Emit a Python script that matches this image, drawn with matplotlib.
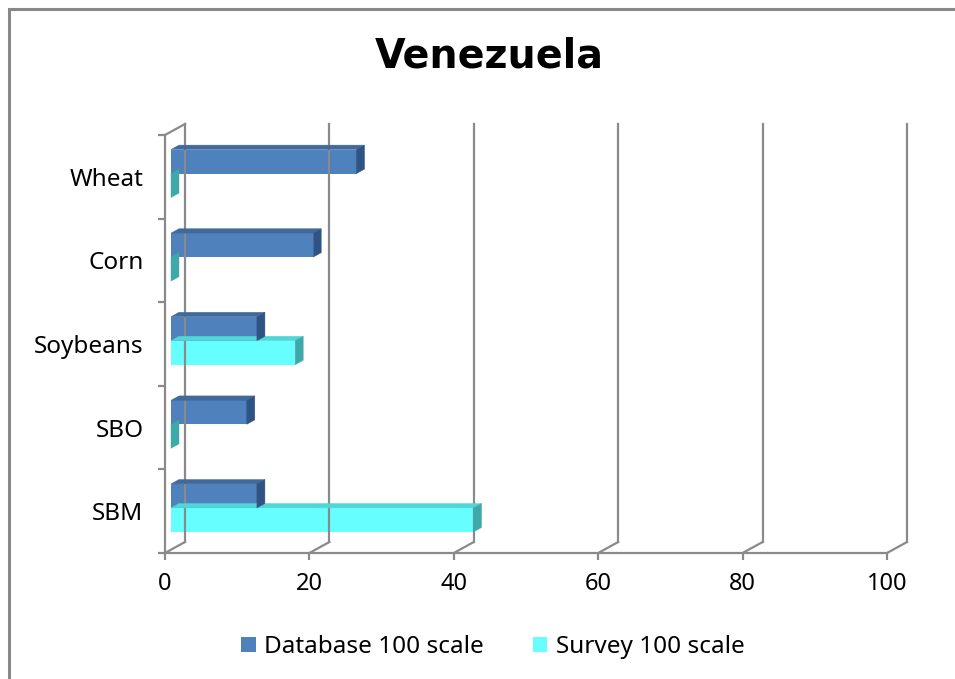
import matplotlib
matplotlib.use("Agg")
import matplotlib.pyplot as plt
from matplotlib.patches import Polygon, Patch, Rectangle
from matplotlib.lines import Line2D
from matplotlib.transforms import ScaledTranslation, IdentityTransform

categories = ["Wheat", "Corn", "Soybeans", "SBO", "SBM"]
database = [25.7, 19.7, 11.9, 10.5, 11.9]
survey = [0, 0, 17.2, 0, 41.9]
series_names = ["Database 100 scale", "Survey 100 scale"]
x_ticks = [0, 20, 40, 60, 80, 100]
title = "Venezuela"

plt.rcParams['font.family'] = ['Noto Sans', 'DejaVu Sans']

W, H = 955, 679
fig = plt.figure(figsize=(W / 100, H / 100), dpi=100)
fig.patch.set_facecolor("white")

# front plane of the pseudo-3D box (pixels from top-left)
x0_px, x1_px = 165, 887
ytop_px, ybot_px = 135, 553
ax = fig.add_axes([x0_px / W, (H - ybot_px) / H, (x1_px - x0_px) / W, (ybot_px - ytop_px) / H])
ax.set_facecolor("none")
n = len(categories)
ax.set_xlim(0, 100)
ax.set_ylim(n - 0.5, -0.5)

GRAY = "#8a8a8a"
LW = 1.6
for s in ["top", "right"]:
    ax.spines[s].set_visible(False)
for s in ["left", "bottom"]:
    ax.spines[s].set_color(GRAY)
    ax.spines[s].set_linewidth(LW)

ax.set_xticks(x_ticks)
ax.set_xticklabels([str(t) for t in x_ticks], fontsize=17)
ax.tick_params(axis="x", length=5, width=LW, color=GRAY, pad=9, labelcolor="black")
ax.set_yticks(range(n))
ax.set_yticklabels(categories, fontsize=17.5)
ax.tick_params(axis="y", which="major", length=0, pad=15.5, labelcolor="black")
ax.set_yticks([i - 0.5 for i in range(n + 1)], minor=True)
ax.tick_params(axis="y", which="minor", length=5, width=LW, color=GRAY)

# depth vector in pixels (right, up)
DX, DY = 20.0, 11.0
F0, F1 = 0.3, 0.7


def P(x, y, f):
    px, py = ax.transData.transform((x, y))
    return (px + f * DX, py + f * DY)


def line(p, q, **kw):
    ln = Line2D([p[0], q[0]], [p[1], q[1]], transform=IdentityTransform(),
                color=GRAY, lw=LW, clip_on=False, zorder=1, **kw)
    fig.add_artist(ln)


# back wall gridlines + floor connectors
ylo, yhi = n - 0.5, -0.5
for t in x_ticks:
    line(P(t, ylo, 1), P(t, yhi, 1))
    line(P(t, ylo, 0), P(t, ylo, 1))
line(P(0, yhi, 0), P(0, yhi, 1))

bar_h = 0.287
front_off = ax.transData + ScaledTranslation(F0 * DX / 100, F0 * DY / 100, fig.dpi_scale_trans)

styles = {
    "Survey 100 scale": dict(front="#66FFFF", top="#4FD6D6", side="#3FA8A8"),
    "Database 100 scale": dict(front="#4F81BD", top="#41699B", side="#2F5382"),
}


def poly(pts, color, z):
    pg = Polygon(pts, closed=True, transform=IdentityTransform(), facecolor=color,
                 edgecolor=color, lw=0.3, clip_on=False, zorder=z)
    fig.add_artist(pg)


# draw survey first (lower, behind), then database
for name, vals, sign in [("Survey 100 scale", survey, +1), ("Database 100 scale", database, -1)]:
    st = styles[name]
    z = 3 if sign > 0 else 5
    for i, v in enumerate(vals):
        yA = i - bar_h if sign < 0 else i       # upper edge
        yB = i if sign < 0 else i + bar_h       # lower edge
        if v > 0:
            poly([P(0, yA, F0), P(v, yA, F0), P(v, yA, F1), P(0, yA, F1)], st["top"], z)
        ax.barh((yA + yB) / 2, v, height=bar_h, left=0, color=st["front"],
                transform=front_off, zorder=z + 0.5, clip_on=False)
        poly([P(v, yA, F0), P(v, yB, F0), P(v, yB, F1), P(v, yA, F1)], st["side"], z + 0.7)

ax.set_xlim(0, 100)
ax.set_ylim(n - 0.5, -0.5)

# title
fig.text(489 / W, 1 - 57 / H, title, ha="center", va="center", fontsize=28.5,
         fontweight="bold", family=["DejaVu Sans"])

# legend
handles = [Patch(facecolor=styles[s]["front"], edgecolor="none") for s in series_names]
fig.legend(handles, series_names, loc="center", bbox_to_anchor=(493 / W, 1 - 647 / H),
           ncol=2, frameon=False, fontsize=17.5, handlelength=0.6, handleheight=0.6,
           handletextpad=0.35, columnspacing=2.0)

# outer chart border (only left and top visible)
border = Rectangle((8.5 / W, -0.5), 2, 1.5 - 8.5 / H, transform=fig.transFigure,
                   facecolor="none", edgecolor="#888888", lw=2.2, clip_on=False)
fig.add_artist(border)

fig.savefig("out.png", dpi=100, facecolor="white")
